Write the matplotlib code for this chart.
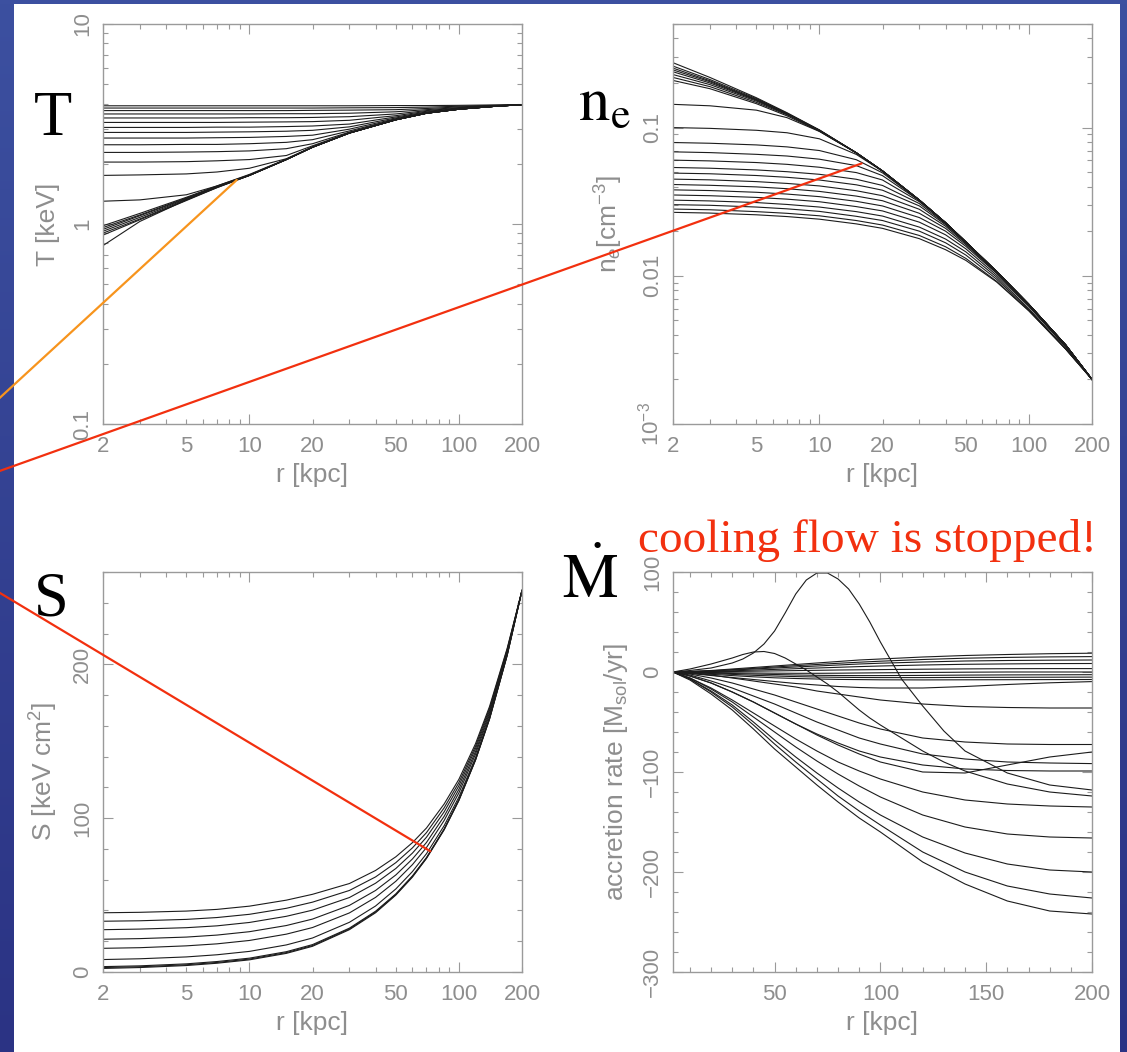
import numpy as np
import matplotlib
matplotlib.use('Agg')
import matplotlib.pyplot as plt
from matplotlib.ticker import FixedLocator, FuncFormatter, NullFormatter, LogLocator, MultipleLocator
from matplotlib.patches import Rectangle, ConnectionPatch
from matplotlib.colors import LinearSegmentedColormap

W, H = 1127, 1052
plt.rcParams['font.family'] = ['Liberation Sans', 'DejaVu Sans']
plt.rcParams['mathtext.fontset'] = 'custom'
plt.rcParams['mathtext.rm'] = 'Liberation Sans'
plt.rcParams['mathtext.it'] = 'Liberation Sans:italic'

# ---------------- data ----------------
r_T = [2, 3, 5, 7, 10, 15, 20, 30, 50, 70, 100, 150, 200]
T_curves = [
    [3.90, 3.90, 3.90, 3.90, 3.90, 3.90, 3.90, 3.90, 3.91, 3.91, 3.92, 3.94, 3.95],
    [3.80, 3.80, 3.80, 3.80, 3.80, 3.80, 3.80, 3.81, 3.82, 3.84, 3.88, 3.92, 3.95],
    [3.69, 3.69, 3.69, 3.69, 3.69, 3.69, 3.70, 3.71, 3.73, 3.78, 3.85, 3.91, 3.95],
    [3.55, 3.55, 3.55, 3.55, 3.55, 3.56, 3.56, 3.58, 3.64, 3.73, 3.82, 3.90, 3.95],
    [3.39, 3.39, 3.39, 3.39, 3.40, 3.40, 3.41, 3.44, 3.55, 3.69, 3.80, 3.90, 3.95],
    [3.22, 3.22, 3.22, 3.22, 3.23, 3.24, 3.25, 3.30, 3.48, 3.66, 3.78, 3.89, 3.95],
    [3.04, 3.04, 3.04, 3.05, 3.05, 3.07, 3.09, 3.16, 3.43, 3.63, 3.77, 3.89, 3.95],
    [2.87, 2.87, 2.87, 2.88, 2.89, 2.91, 2.94, 3.06, 3.39, 3.61, 3.76, 3.88, 3.95],
    [2.69, 2.69, 2.69, 2.70, 2.71, 2.74, 2.78, 2.98, 3.36, 3.60, 3.76, 3.88, 3.95],
    [2.49, 2.49, 2.50, 2.50, 2.52, 2.56, 2.64, 2.92, 3.34, 3.59, 3.75, 3.88, 3.95],
    [2.28, 2.28, 2.29, 2.30, 2.32, 2.38, 2.52, 2.88, 3.33, 3.58, 3.75, 3.88, 3.95],
    [2.04, 2.04, 2.05, 2.07, 2.10, 2.20, 2.46, 2.86, 3.32, 3.58, 3.75, 3.88, 3.95],
    [1.75, 1.76, 1.78, 1.82, 1.90, 2.12, 2.43, 2.85, 3.32, 3.58, 3.75, 3.88, 3.95],
    [1.30, 1.32, 1.40, 1.55, 1.77, 2.11, 2.42, 2.85, 3.32, 3.58, 3.75, 3.88, 3.95],
    [0.98, 1.13, 1.36, 1.55, 1.76, 2.10, 2.42, 2.85, 3.32, 3.58, 3.75, 3.88, 3.95],
    [0.96, 1.11, 1.35, 1.54, 1.75, 2.10, 2.42, 2.85, 3.32, 3.58, 3.75, 3.88, 3.95],
    [0.94, 1.10, 1.34, 1.54, 1.75, 2.10, 2.42, 2.85, 3.32, 3.58, 3.75, 3.88, 3.95],
    [0.92, 1.08, 1.33, 1.53, 1.75, 2.10, 2.42, 2.85, 3.32, 3.58, 3.75, 3.88, 3.95],
    [0.90, 1.06, 1.32, 1.52, 1.75, 2.10, 2.42, 2.85, 3.32, 3.58, 3.75, 3.88, 3.95],
    [0.88, 1.05, 1.31, 1.52, 1.75, 2.10, 2.42, 2.85, 3.32, 3.58, 3.75, 3.88, 3.95],
    [0.78, 1.03, 1.32, 1.53, 1.75, 2.10, 2.42, 2.85, 3.32, 3.58, 3.75, 3.88, 3.95],
]

r_ne = [2, 3, 5, 7, 10, 15, 20, 30, 40, 50, 70, 100, 150, 200]
ne_curves = [
    [0.274, 0.218, 0.159, 0.126, 0.0965, 0.0676, 0.0510, 0.0324, 0.0228, 0.0169, 0.0107, 0.0064, 0.0034, 0.0020],
    [0.260, 0.211, 0.157, 0.125, 0.0960, 0.0676, 0.0510, 0.0324, 0.0228, 0.0169, 0.0107, 0.0064, 0.0034, 0.0020],
    [0.252, 0.207, 0.155, 0.1245, 0.0958, 0.0676, 0.0510, 0.0324, 0.0228, 0.0169, 0.0107, 0.0064, 0.0034, 0.0020],
    [0.245, 0.204, 0.154, 0.124, 0.0957, 0.0676, 0.0510, 0.0324, 0.0228, 0.0169, 0.0107, 0.0064, 0.0034, 0.0020],
    [0.238, 0.200, 0.153, 0.1235, 0.0956, 0.0676, 0.0510, 0.0324, 0.0228, 0.0169, 0.0107, 0.0064, 0.0034, 0.0020],
    [0.228, 0.195, 0.151, 0.123, 0.0955, 0.0676, 0.0510, 0.0324, 0.0228, 0.0169, 0.0107, 0.0064, 0.0034, 0.0020],
    [0.218, 0.189, 0.148, 0.122, 0.0950, 0.0676, 0.0510, 0.0324, 0.0228, 0.0169, 0.0107, 0.0064, 0.0034, 0.0020],
    [0.208, 0.183, 0.145, 0.120, 0.0945, 0.0675, 0.0510, 0.0324, 0.0228, 0.0169, 0.0107, 0.0064, 0.0034, 0.0020],
    [0.1435, 0.1403, 0.1311, 0.1167, 0.0942, 0.0675, 0.0510, 0.0324, 0.0228, 0.0169, 0.0107, 0.0064, 0.0034, 0.0020],
    [0.100, 0.0988, 0.0959, 0.0923, 0.0840, 0.0659, 0.0507, 0.0324, 0.0228, 0.0169, 0.0107, 0.0064, 0.0034, 0.0020],
    [0.0793, 0.0784, 0.0764, 0.0741, 0.0700, 0.0607, 0.0495, 0.0322, 0.0228, 0.0169, 0.0107, 0.0064, 0.0034, 0.0020],
    [0.0686, 0.0678, 0.0660, 0.0643, 0.0612, 0.0554, 0.0474, 0.0321, 0.0228, 0.0169, 0.0107, 0.0064, 0.0034, 0.0020],
    [0.0603, 0.0596, 0.0581, 0.0565, 0.0540, 0.0497, 0.0443, 0.0316, 0.0227, 0.0169, 0.0107, 0.0064, 0.0034, 0.0020],
    [0.0538, 0.0532, 0.0518, 0.0504, 0.0484, 0.0448, 0.0407, 0.0307, 0.0224, 0.0169, 0.0107, 0.0064, 0.0034, 0.0020],
    [0.0493, 0.0488, 0.0475, 0.0462, 0.0443, 0.0411, 0.0378, 0.0296, 0.0221, 0.0167, 0.0107, 0.0064, 0.0034, 0.0020],
    [0.0449, 0.0444, 0.0432, 0.0420, 0.0404, 0.0375, 0.0347, 0.0281, 0.0216, 0.0165, 0.0106, 0.0064, 0.0034, 0.0020],
    [0.0413, 0.0408, 0.0398, 0.0387, 0.0371, 0.0345, 0.0321, 0.0264, 0.0209, 0.0162, 0.0105, 0.0063, 0.0034, 0.0020],
    [0.0380, 0.0376, 0.0366, 0.0356, 0.0342, 0.0318, 0.0296, 0.0247, 0.0200, 0.0158, 0.0104, 0.0063, 0.0033, 0.0020],
    [0.0351, 0.0347, 0.0338, 0.0329, 0.0316, 0.0293, 0.0274, 0.0230, 0.0189, 0.0152, 0.0101, 0.0062, 0.0033, 0.0020],
    [0.0324, 0.0320, 0.0312, 0.0303, 0.0291, 0.0271, 0.0253, 0.0213, 0.0177, 0.0145, 0.0098, 0.0060, 0.0032, 0.0020],
    [0.0302, 0.0299, 0.0291, 0.0283, 0.0272, 0.0252, 0.0236, 0.0200, 0.0167, 0.0138, 0.0095, 0.0059, 0.0032, 0.0020],
    [0.0282, 0.0279, 0.0271, 0.0264, 0.0254, 0.0236, 0.0220, 0.0187, 0.0157, 0.0131, 0.0092, 0.0058, 0.0032, 0.0020],
    [0.0268, 0.0265, 0.0258, 0.0251, 0.0241, 0.0224, 0.0209, 0.0178, 0.0150, 0.0127, 0.0091, 0.0058, 0.0032, 0.0020],
]

r_S = [2, 3, 5, 7, 10, 15, 20, 30, 40, 50, 60, 70, 85, 100, 120, 140, 170, 200]
S_curves = [
    [38.5, 38.8, 39.6, 40.7, 42.8, 46.7, 50.5, 57.5, 66.0, 74.9, 84.1, 93.6, 109.2, 125.3, 148.4, 172.6, 210.5, 248],
    [33.0, 33.3, 34.2, 35.4, 37.5, 41.4, 45.4, 53.0, 61.8, 71.1, 80.7, 90.6, 106.7, 123.2, 146.8, 171.4, 209.8, 248],
    [27.5, 27.9, 28.8, 30.0, 32.2, 36.2, 40.2, 48.4, 57.7, 67.3, 77.3, 87.6, 104.1, 121.1, 145.2, 170.1, 209.1, 248],
    [21.3, 21.7, 22.7, 24.0, 26.2, 30.2, 34.4, 43.3, 53.0, 63.1, 73.5, 84.2, 101.2, 118.8, 143.3, 168.7, 208.3, 248],
    [15.4, 15.8, 17.0, 18.3, 20.5, 24.6, 28.9, 38.4, 48.5, 59.0, 69.8, 80.9, 98.5, 116.5, 141.6, 167.4, 207.6, 248],
    [8.1, 8.6, 9.8, 11.2, 13.4, 17.6, 22.1, 32.3, 42.9, 54.0, 65.3, 76.9, 95.1, 113.8, 139.4, 165.8, 206.7, 248],
    [3.5, 4.0, 5.3, 6.8, 9.0, 13.2, 17.8, 28.5, 39.5, 50.8, 62.5, 74.4, 93.0, 112.1, 138.1, 164.8, 206.1, 248],
    [2.9, 3.4, 4.7, 6.2, 8.4, 12.6, 17.2, 28.0, 39.0, 50.4, 62.1, 74.1, 92.7, 111.8, 137.9, 164.6, 206.0, 248],
    [2.3, 2.9, 4.2, 5.7, 7.9, 12.1, 16.7, 27.5, 38.5, 50.0, 61.7, 73.8, 92.4, 111.5, 137.7, 164.4, 205.9, 248],
]

r_M = [2, 10, 20, 30, 40, 50, 60, 70, 80, 90, 100, 120, 140, 160, 180, 200]
M_curves = [
    [0, -8, -22, -38, -57, -77, -95, -113, -130, -146, -160, -190, -212, -229, -239, -242],
    [0, -7, -20, -35, -53, -72, -90, -107, -124, -139, -153, -180, -200, -214, -222, -226],
    [0, -7, -19, -33, -50, -68, -85, -101, -116, -130, -143, -165, -181, -192, -198, -200],
    [0, -6, -17, -30, -45, -60, -75, -89, -102, -114, -125, -143, -155, -162, -165, -166],
    [0, -6, -16, -28, -41, -54, -67, -79, -90, -99, -107, -120, -128, -132, -134, -135],
    [0, -4, -11, -20, -30, -41, -52, -62, -71, -79, -85, -93, -97, -98.5, -99, -99],
    [0, -3, -9, -16, -24, -32, -41, -50, -58, -66, -72, -82, -87, -90, -91, -91.6],
    [0, -4, -11, -20, -30, -41, -52, -63, -73, -82, -90, -100, -101, -93, -85, -80],
    [0, -2, -6, -11, -17, -23, -30, -37, -44, -51, -57, -66, -70, -72, -72.5, -72.5],
    [0, -1, -3, -6, -9, -12, -15, -19, -22, -25, -28, -32, -34.5, -35.5, -36, -36],
    [0, 0.5, 1.5, 3, 4.5, 6, 7.5, 9, 10.5, 12, 13, 15, 16.5, 17.5, 18.3, 18.8],
    [0, 0.4, 1.2, 2.4, 3.6, 5, 6.3, 7.5, 8.7, 9.8, 10.8, 12.5, 13.8, 14.6, 15.1, 15.4],
    [0, 0.3, 1, 2, 3, 4, 5, 6, 7, 8, 8.8, 10, 11, 11.5, 11.8, 12],
    [0, 0.2, 0.6, 1.2, 1.9, 2.6, 3.3, 4, 4.7, 5.4, 6, 7, 7.7, 8.1, 8.4, 8.5],
    [0, 0.1, 0.3, 0.5, 0.8, 1.1, 1.4, 1.7, 2, 2.2, 2.4, 2.8, 3.1, 3.3, 3.4, 3.4],
    [0, -0.2, -0.5, -0.8, -1, -1.2, -1.3, -1.3, -1.2, -1, -0.8, -0.5, -0.2, 0, 0, 0],
    [0, -0.4, -1, -1.5, -2, -2.5, -3, -3.3, -3.5, -3.6, -3.6, -3.4, -3.1, -2.9, -2.8, -2.7],
    [0, -0.6, -1.5, -2.4, -3.3, -4, -4.6, -5, -5.3, -5.5, -5.6, -5.6, -5.4, -5.3, -5.2, -5.1],
    [0, -1, -2.3, -3.6, -4.8, -5.8, -6.5, -7, -7.4, -7.6, -7.8, -7.9, -7.8, -7.7, -7.6, -7.5],
    [0, -1.5, -3.5, -5.5, -7.5, -9.5, -11.5, -13, -14.5, -15.5, -16, -16, -14.5, -12.5, -10.8, -9.6],
]
r_bump = [2, 10, 20, 30, 35, 40, 45, 50, 55, 60, 65, 70, 75, 80, 85, 90, 95, 100, 110, 120, 130, 140, 160, 180, 200]
M_bump_big = [0, 1.5, 4, 9, 13, 19, 28, 41, 59, 78, 92, 99, 99, 93, 83, 68, 50, 30, -7, -34, -59, -79, -101, -113, -118]
M_bump_small = [0, 3, 8, 14, 17.5, 20, 20.5, 18.5, 14, 8, 2, -5, -12, -20, -29, -38, -46, -53, -66, -79, -90, -99, -112, -120, -124]

x_major_log = [10, 100]
x_minor_log = [2, 3, 4, 5, 6, 7, 8, 9, 20, 30, 40, 50, 60, 70, 80, 90, 200]
x_labeled = [2, 5, 20, 50, 200]
ne_tick_text = {0.001: '$10^{-3}$', 0.01: '0.01', 0.1: '0.1'}

GRAY = '#8e8e8e'
LINE = '#1c1c1c'
RED = '#f2300f'
ORANGE = '#f7941d'


def px(x, y):
    return x / W, 1 - y / H


def style(ax):
    for s in ax.spines.values():
        s.set_color('#9a9a9a')
        s.set_linewidth(1.0)
    ax.tick_params(which='both', direction='in', top=True, right=True,
                   color='#9a9a9a', labelcolor=GRAY, labelsize=16, width=0.8)
    ax.tick_params(which='major', length=7)
    ax.tick_params(which='minor', length=3.5)
    ax.tick_params(axis='x', which='both', pad=9)
    ax.tick_params(axis='y', which='both', pad=7, labelrotation=90)
    for lbl in ax.get_yticklabels():
        lbl.set_va('center')


def log_x(ax):
    ax.set_xscale('log')
    ax.set_xlim(2, 200)
    ax.xaxis.set_major_locator(FixedLocator(x_major_log))
    ax.xaxis.set_minor_locator(FixedLocator(x_minor_log))
    ax.xaxis.set_major_formatter(FuncFormatter(lambda v, p: '%g' % v))
    ax.xaxis.set_minor_formatter(FuncFormatter(lambda v, p: '%g' % v if round(v) in x_labeled else ''))


fig = plt.figure(figsize=(W / 100, H / 100), dpi=100)

# background: blue slide frame with white card
bg = fig.add_axes([0, 0, 1, 1])
bg.axis('off')
cmap = LinearSegmentedColormap.from_list('slide', ['#3c50a0', '#2b3384'])
bg.imshow(np.linspace(0, 1, 256)[:, None], aspect='auto', cmap=cmap, extent=[0, 1, 0, 1])
bg.add_patch(Rectangle((14 / W, 0), (1120 - 14) / W, (H - 4) / H, color='white', lw=0))
bg.set_xlim(0, 1)
bg.set_ylim(0, 1)

aw, ah = 419 / W, 400 / H
axT = fig.add_axes([103 / W, 1 - 424 / H, aw, ah])
axN = fig.add_axes([673 / W, 1 - 424 / H, aw, ah])
axS = fig.add_axes([103 / W, 1 - 972 / H, aw, ah])
axM = fig.add_axes([673 / W, 1 - 972 / H, aw, ah])

# temperature
for c in T_curves:
    axT.plot(r_T, c, color=LINE, lw=0.8)
log_x(axT)
axT.set_yscale('log')
axT.set_ylim(0.1, 10)
axT.yaxis.set_major_locator(LogLocator(base=10))
axT.yaxis.set_minor_locator(LogLocator(base=10, subs=np.arange(2, 10)))
axT.yaxis.set_major_formatter(FuncFormatter(lambda v, p: '%g' % v))
axT.yaxis.set_minor_formatter(NullFormatter())
axT.set_xlabel('r [kpc]', color=GRAY, fontsize=19, labelpad=4)
axT.set_ylabel('T [keV]', color=GRAY, fontsize=19, labelpad=9)

# density
for c in ne_curves:
    axN.plot(r_ne, c, color=LINE, lw=0.8)
log_x(axN)
axN.set_yscale('log')
axN.set_ylim(1e-3, 0.5)
axN.yaxis.set_major_locator(FixedLocator(list(ne_tick_text)))
axN.yaxis.set_minor_locator(LogLocator(base=10, subs=np.arange(2, 10)))
axN.yaxis.set_major_formatter(FuncFormatter(lambda v, p: ne_tick_text.get(round(v, 3), '')))
axN.yaxis.set_minor_formatter(NullFormatter())
axN.set_xlabel('r [kpc]', color=GRAY, fontsize=19, labelpad=4)
axN.set_ylabel('n$_e$[cm$^{-3}$]', color=GRAY, fontsize=19, labelpad=9)

# entropy
for c in S_curves:
    axS.plot(r_S, c, color=LINE, lw=0.8)
log_x(axS)
axS.set_ylim(0, 260)
axS.yaxis.set_major_locator(MultipleLocator(100))
axS.yaxis.set_minor_locator(MultipleLocator(20))
axS.set_xlabel('r [kpc]', color=GRAY, fontsize=19, labelpad=4)
axS.set_ylabel('S [keV cm$^2$]', color=GRAY, fontsize=19, labelpad=9)

# accretion rate
for c in M_curves:
    axM.plot(r_M, c, color=LINE, lw=0.8)
axM.plot(r_bump, M_bump_big, color=LINE, lw=0.8)
axM.plot(r_bump, M_bump_small, color=LINE, lw=0.8)
axM.set_xlim(2, 200)
axM.set_ylim(-300, 100)
axM.xaxis.set_major_locator(MultipleLocator(50))
axM.xaxis.set_minor_locator(MultipleLocator(10))
axM.yaxis.set_major_locator(MultipleLocator(100))
axM.yaxis.set_minor_locator(MultipleLocator(20))
axM.set_xlabel('r [kpc]', color=GRAY, fontsize=19, labelpad=4)
axM.set_ylabel(r'accretion rate [M$_{\mathrm{sol}}$/yr]', color=GRAY, fontsize=19, labelpad=9)

for ax in (axT, axN, axS, axM):
    style(ax)

# pointer lines from the left edge of the slide to the curves
for start, target, ax, col in [((-20, 416), (8.7, 1.66), axT, ORANGE),
                               ((-20, 478), (15.9, 0.0573), axN, RED),
                               ((-20, 581), (73, 78.5), axS, RED)]:
    con = ConnectionPatch(xyA=(start[0] / W, 1 - start[1] / H), coordsA='figure fraction',
                          xyB=target, coordsB=ax.transData,
                          color=col, lw=1.6, zorder=5)
    fig.add_artist(con)

# panel letters and comment
serif = 'Liberation Serif'
fig.text(*px(53, 135), 'T', family=serif, fontsize=45, ha='center', va='baseline')
fig.text(*px(578, 120), r'$\mathrm{n_e}$', math_fontfamily='stix', fontsize=45, ha='left', va='baseline')
fig.text(*px(51, 615), 'S', family=serif, fontsize=45, ha='center', va='baseline')
fig.text(*px(590, 598), r'$\dot{\mathrm{M}}$', math_fontfamily='stix', fontsize=45, ha='center', va='baseline')
fig.text(*px(638, 552), 'cooling flow is stopped!', family=serif, fontsize=34,
         color=RED, ha='left', va='baseline')

fig.savefig('out.png', dpi=100)
